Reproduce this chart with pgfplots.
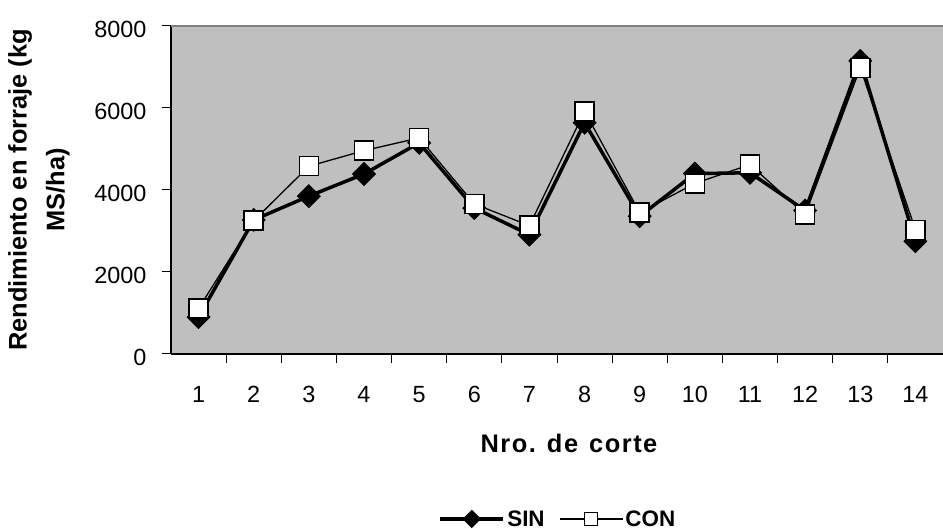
\documentclass[border=0pt]{standalone}
\usepackage{pgfplots}
\pgfplotsset{compat=1.18}
\usepackage{fontspec}
\setmainfont{Liberation Sans}
\begin{document}
\begin{tikzpicture}[x=1bp,y=1bp]
\useasboundingbox (0,0) rectangle (943,529);
\begin{axis}[
  at={(171bp,175bp)}, anchor=south west,
  width=772bp, height=328bp, scale only axis,
  xmin=0.5, xmax=14.5, ymin=0, ymax=8000,
  axis background/.style={fill=black!25},
  axis x line*=bottom, axis y line*=left,
  axis line style={black, line width=1.3bp, -},
  xtick={1,...,14},
  major x tick style={draw=none},
  minor xtick={1.5,2.5,...,14.5},
  minor x tick style={black, line width=1bp},
  ytick={0,2000,4000,6000,8000},
  y tick style={black, line width=1bp},
  tick align=outside,
  major tick length=9bp, minor tick length=9bp,
  scaled y ticks=false,
  /pgf/number format/assume math mode=true,
  /pgf/number format/1000 sep={},
  tick label style={font=\fontsize{23.5}{26}\selectfont},
  xticklabel style={anchor=base, yshift=-40bp},
  yticklabel style={anchor=east, xshift=-12bp, yshift=-3bp},
  xlabel={Nro.\hspace{11bp}de\hspace{11bp}corte},
  ylabel={Rendimiento en forraje (kg\\MS/ha)},
  xlabel style={font=\bfseries\fontsize{25.5}{38}\selectfont\addfontfeatures{LetterSpace=6},
    at={(rel axis cs:0.5,0)}, anchor=base, xshift=12bp, yshift=-99bp},
  ylabel style={font=\bfseries\fontsize{25.5}{38}\selectfont,
    at={(rel axis cs:0,0.5)}, anchor=center, rotate=0, align=center, xshift=0bp, yshift=132bp},
  legend columns=2,
  legend style={at={(rel axis cs:0.501,-0.503)}, anchor=center, draw=none, fill=none,
    font=\bfseries\fontsize{22.5}{25}\selectfont,
    /tikz/every even column/.append style={column sep=12bp}},
  legend image code/.code={
    \draw[#1, mark=none] (0bp,0bp) -- (63bp,0bp);
    \draw[#1] plot coordinates {(31.5bp,0bp)};},
  clip=false,
]
\addplot[black, line width=3.5bp, mark=square*, mark size=8bp,
  mark options={rotate=45, fill=black, line width=1bp, solid},
  legend image post style={line width=4bp, mark size=6bp}]
  coordinates {(1,900) (2,3270) (3,3850) (4,4390) (5,5150) (6,3560) (7,2910)
  (8,5640) (9,3360) (10,4400) (11,4420) (12,3500) (13,7150) (14,2750)};
\addlegendentry{SIN}
\addplot[black, line width=1.3bp, mark=square*, mark size=9.5bp,
  mark options={fill=white, line width=1.5bp, solid},
  legend image post style={line width=1.8bp, mark size=6.5bp}]
  coordinates {(1,1110) (2,3250) (3,4580) (4,4960) (5,5270) (6,3660) (7,3130)
  (8,5920) (9,3450) (10,4160) (11,4620) (12,3400) (13,6980) (14,3030)};
\addlegendentry{CON}
\draw[black!50, line width=1.5bp] (rel axis cs:0,1) -- (rel axis cs:1,1);
\end{axis}
\end{tikzpicture}
\end{document}
